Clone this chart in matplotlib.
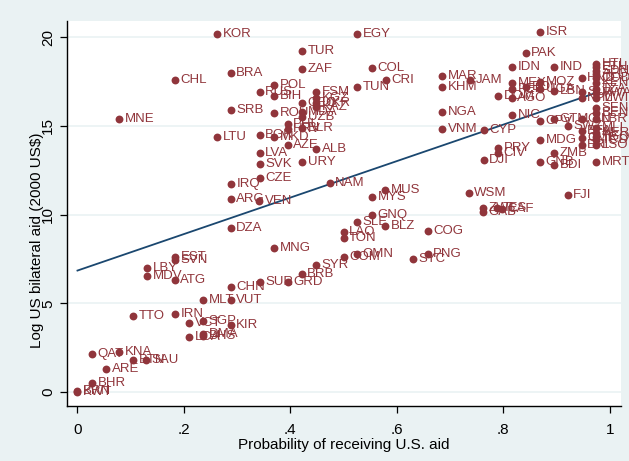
import matplotlib.pyplot as plt
import numpy as np

# country codes, probability of receiving US aid, log US bilateral aid
codes = [
    "KOR", "EGY", "ISR", "TUR", "PAK", "ZAF", "BRA", "CHL", "COL", "CRI",
    "TUN", "POL", "RUS", "BIH", "FSM", "SRB", "MNE", "LTU", "ROU",
    "KGZ", "UKR", "KAZ", "GEO", "MDA", "UZB", "PHL", "BLR", "HRV", "MKD",
    "BGR", "AZE", "ALB", "LVA", "SVK", "URY", "CZE", "NAM",
    "IRQ", "ARG", "VEN", "MUS", "MYS", "GNQ", "SLE", "BLZ", "LAO", "TON",
    "COG", "OMN", "COM", "PNG", "SYC", "SYR", "BRB", "GRD", "SUR", "MNG",
    "DZA", "EST", "SVN", "LBY", "MDV", "ATG", "CHN", "MLT", "VUT", "TTO",
    "IRN", "VCT", "SGP", "KIR", "DMA", "LCA", "BHS", "QAT", "KNA", "BTN",
    "SAU", "ARE", "BHR", "BRN", "KWT",
    "IDN", "IND", "MAR", "KHM", "JAM", "MEX", "PER", "BOL", "MOZ", "UGA",
    "LBN", "DOM", "AGO", "NIC", "NGA", "VNM", "CYP", "CPV", "GTM", "SWZ",
    "MDG", "PRY", "CIV", "DJI", "ZMB", "GNB", "BDI", "MRT", "LSO",
    "HTI", "ETH", "SDN", "AFG", "COD", "KEN", "TZA", "RWA", "MWI", "SEN",
    "BEN", "LBR", "MLI", "NER", "TGO", "TCD",
    "HND", "SLV", "NPL", "GIN", "BFA", "CMR", "ERI",
    "WSM", "FJI", "ZWE", "GAB", "CAF", "TLS",
]
prob = [
    0.262, 0.525, 0.869, 0.422, 0.842, 0.422, 0.288, 0.183, 0.553, 0.579,
    0.525, 0.369, 0.342, 0.369, 0.448, 0.288, 0.078, 0.262, 0.369,
    0.448, 0.448, 0.448, 0.422, 0.422, 0.422, 0.395, 0.422, 0.395, 0.369,
    0.342, 0.395, 0.448, 0.342, 0.342, 0.422, 0.342, 0.474,
    0.288, 0.288, 0.341, 0.578, 0.553, 0.553, 0.525, 0.578, 0.500, 0.500,
    0.658, 0.525, 0.500, 0.658, 0.630, 0.448, 0.421, 0.395, 0.342, 0.369,
    0.288, 0.183, 0.183, 0.131, 0.131, 0.183, 0.288, 0.236, 0.288, 0.105,
    0.183, 0.210, 0.236, 0.288, 0.236, 0.210, 0.236, 0.027, 0.078, 0.105,
    0.129, 0.054, 0.027, 0.000, 0.000,
    0.816, 0.895, 0.685, 0.685, 0.737, 0.816, 0.816, 0.843, 0.869, 0.869,
    0.895, 0.790, 0.816, 0.816, 0.685, 0.685, 0.763, 0.869, 0.895, 0.921,
    0.869, 0.790, 0.790, 0.763, 0.895, 0.869, 0.895, 0.974, 0.974,
    0.974, 0.974, 0.974, 0.974, 0.974, 0.974, 0.974, 0.974, 0.974, 0.974,
    0.974, 0.974, 0.974, 0.974, 0.974, 0.974,
    0.947, 0.947, 0.947, 0.947, 0.947, 0.947, 0.947,
    0.735, 0.921, 0.762, 0.762, 0.798, 0.788,
]
logaid = [
    20.2, 20.2, 20.3, 19.2, 19.1, 18.2, 18.0, 17.6, 18.25, 17.6,
    17.2, 17.3, 16.9, 16.7, 16.9, 15.9, 15.4, 14.4, 15.7,
    16.6, 16.3, 16.05, 16.3, 15.8, 15.5, 15.1, 14.9, 14.8, 14.4,
    14.5, 13.9, 13.7, 13.5, 12.85, 12.95, 12.05, 11.8,
    11.7, 10.9, 10.75, 11.4, 11.0, 10.0, 9.6, 9.35, 9.0, 8.7,
    9.1, 7.8, 7.6, 7.8, 7.5, 7.15, 6.65, 6.2, 6.2, 8.1,
    9.25, 7.6, 7.45, 7.0, 6.55, 6.3, 5.9, 5.2, 5.2, 4.3,
    4.4, 3.9, 4.0, 3.8, 3.3, 3.1, 3.15, 2.15, 2.25, 1.8,
    1.8, 1.3, 0.5, 0.05, 0.0,
    18.3, 18.3, 17.8, 17.2, 17.6, 17.4, 17.1, 17.2, 17.5, 17.1,
    16.95, 16.7, 16.55, 15.6, 15.8, 14.8, 14.75, 15.3, 15.4, 15.0,
    14.2, 13.75, 13.45, 13.1, 13.5, 12.95, 12.8, 12.95, 13.9,
    18.5, 18.3, 18.1, 17.95, 17.7, 17.4, 17.1, 16.85, 16.55, 16.0,
    15.7, 15.4, 14.9, 14.6, 14.4, 14.2,
    17.7, 16.9, 16.6, 15.4, 14.7, 14.3, 13.9,
    11.2, 11.1, 10.4, 10.15, 10.3, 10.4,
]

# fitted line
fit_intercept = 6.85
fit_slope = 10.28

x_ticks = [0, 0.2, 0.4, 0.6, 0.8, 1.0]
x_ticklabels = ["0", ".2", ".4", ".6", ".8", "1"]
y_ticks = [0, 5, 10, 15, 20]

plt.rcParams["font.family"] = ["Liberation Sans", "DejaVu Sans"]

bg = "#EAF2F3"
maroon = "#90353B"
navy = "#1A476F"

fig = plt.figure(figsize=(6.29, 4.61), dpi=100, facecolor=bg)
ax = fig.add_axes([0.1065, 0.119, 0.8805, 0.835])
ax.set_facecolor("white")

ax.scatter(prob, logaid, s=32, color=maroon, zorder=3, linewidths=0)
for c, x, y in zip(codes, prob, logaid):
    t = ax.annotate(c, (x, y), xytext=(4, 0), textcoords="offset points",
                    ha="left", va="center", color=maroon, fontsize=9.5,
                    zorder=3, annotation_clip=False)
    t.set_clip_on(True)

xf = np.array([min(prob), max(prob)])
ax.plot(xf, fit_intercept + fit_slope * xf, color=navy, lw=1.3, zorder=2)

ax.set_xlim(-0.0197, 1.0207)
ax.set_ylim(-0.79, 20.9)
ax.set_xticks(x_ticks)
ax.set_xticklabels(x_ticklabels)
ax.set_yticks(y_ticks)
ax.set_yticklabels([str(v) for v in y_ticks], rotation=90, va="center")
ax.tick_params(labelsize=11, length=5, width=0.9, color="black")
ax.tick_params(axis="x", pad=7)
ax.grid(axis="y", color=bg, lw=1.2, zorder=0)
ax.set_axisbelow(True)

for side in ["top", "right"]:
    ax.spines[side].set_visible(False)
for side in ["left", "bottom"]:
    ax.spines[side].set_linewidth(1.0)

ax.set_xlabel("Probability of receiving U.S. aid", fontsize=11, labelpad=1)
ax.set_ylabel("Log US bilateral aid (2000 US$)", fontsize=11)
ax.yaxis.set_label_coords(-0.0415, 0.43)

fig.savefig("out.png", dpi=100, facecolor=bg)
